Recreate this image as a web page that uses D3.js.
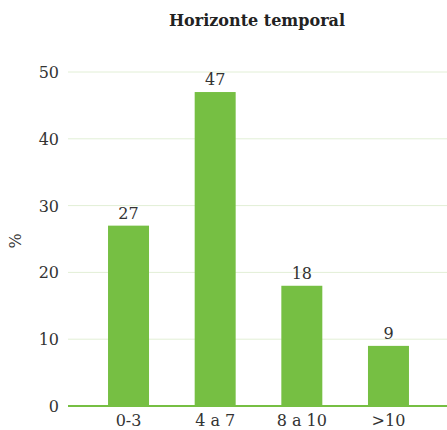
<!DOCTYPE html>
<html><head><meta charset="utf-8">
<script src="https://cdn.jsdelivr.net/npm/d3@7"></script>
<style>body{margin:0;background:#fff}</style>
</head><body>
<svg id="c" width="447" height="430"></svg>
<script>
const categories = ["0-3", "4 a 7", "8 a 10", ">10"];
const values = [27, 47, 18, 9];
const yTicks = [0, 10, 20, 30, 40, 50];
const title = "Horizonte temporal";
const yLabel = "%";

const font = "'DejaVu Serif', 'Liberation Serif', serif";
const svg = d3.select("#c");
const x = d3.scaleBand().domain(categories).range([85.2, 431.8]).paddingInner(0.527).paddingOuter(0.2635);
const y = d3.scaleLinear().domain([0, 50]).range([406, 72]);

svg.append("text").attr("x", 257).attr("y", 26).attr("text-anchor", "middle")
  .attr("font-family", font).attr("font-weight", "bold").attr("font-size", 16).attr("fill", "#222").text(title);

svg.append("g").selectAll("line").data(yTicks.filter(d => d > 0)).join("line")
  .attr("x1", 68).attr("x2", 447).attr("y1", d => y(d)).attr("y2", d => y(d))
  .attr("stroke", "#e2efd6").attr("stroke-width", 1);

svg.append("g").selectAll("text").data(yTicks).join("text")
  .attr("x", 59).attr("y", d => y(d) + 6).attr("text-anchor", "end")
  .attr("font-family", font).attr("font-size", 16).attr("fill", "#333").text(d => d);

svg.append("text").attr("transform", "translate(21,241) rotate(-90)").attr("text-anchor", "middle")
  .attr("font-family", font).attr("font-size", 16).attr("fill", "#333").text(yLabel);

svg.append("g").selectAll("rect").data(values).join("rect")
  .attr("x", (d, i) => x(categories[i])).attr("width", x.bandwidth())
  .attr("y", d => y(d)).attr("height", d => y(0) - y(d)).attr("fill", "#76bf43");

svg.append("line").attr("x1", 68).attr("x2", 447).attr("y1", y(0)).attr("y2", y(0))
  .attr("stroke", "#76bf43").attr("stroke-width", 2);

svg.append("g").selectAll("text").data(values).join("text")
  .attr("x", (d, i) => x(categories[i]) + x.bandwidth() / 2).attr("y", d => y(d) - 7)
  .attr("text-anchor", "middle").attr("font-family", font).attr("font-size", 16).attr("fill", "#333").text(d => d);

svg.append("g").selectAll("text").data(categories).join("text")
  .attr("x", d => x(d) + x.bandwidth() / 2).attr("y", 426)
  .attr("text-anchor", "middle").attr("font-family", font).attr("font-size", 16).attr("fill", "#333").text(d => d);
</script>
</body></html>
